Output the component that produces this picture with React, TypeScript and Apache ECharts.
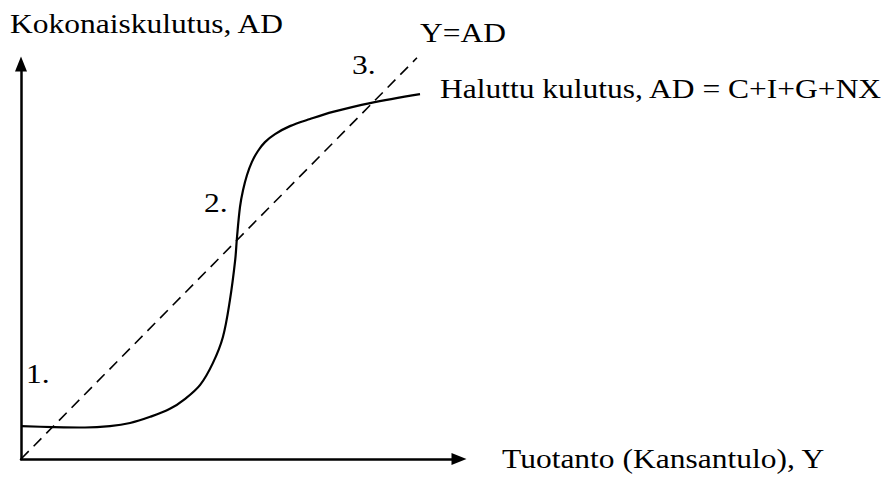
import React, { useEffect, useRef } from "react";
import * as echarts from "echarts";

// Desired aggregate demand curve (AD = C+I+G+NX)
const curveY_output = [0, 7.3, 14.6, 20.3, 24.9, 29.5, 34.0, 37.4, 40.9, 43.8, 46.1, 47.7, 48.9, 49.3, 50.0, 50.7, 51.6, 52.7, 54.1, 55.7, 58.0, 61.4, 66.0, 71.2, 79.7, 91.1];
const curveAD = [7.4, 7.2, 7.1, 7.4, 8.1, 9.5, 11.3, 13.5, 16.7, 21.6, 27.5, 35.8, 44.8, 49.8, 56.8, 60.6, 64.0, 66.9, 69.4, 71.4, 73.2, 75.0, 76.6, 78.2, 80.2, 82.2];

// 45-degree line Y = AD
const diagonalY = [0, 90.4];
const diagonalAD = [0, 90.4];

const axisMaxX = 100;
const axisMaxY = 89;

const FONT = '"Liberation Serif", "Times New Roman", serif';
const FS = 28;
const SX = 1.125;

export default function App() {
  const ref = useRef<HTMLDivElement>(null);

  useEffect(() => {
    if (!ref.current) return;
    const chart = echarts.init(ref.current, undefined, { renderer: "svg" });

    const curveData = curveY_output.map((x, i) => [x, curveAD[i]]);
    const diagData = diagonalY.map((x, i) => [x, diagonalAD[i]]);

    const mid = (baseline: number) => baseline - 0.3375 * FS;
    const label = (text: string, x: number, baseline: number) => ({
      type: "text",
      x,
      y: mid(baseline),
      scaleX: SX,
      silent: true,
      style: {
        text,
        x: 0,
        y: 0,
        font: `${FS}px ${FONT}`,
        fill: "#000",
        verticalAlign: "middle",
        align: "left",
      },
    });

    const axisCommon = {
      type: "value" as const,
      min: 0,
      axisLabel: { show: false },
      axisTick: { show: false },
      splitLine: { show: false },
      axisLine: {
        show: true,
        onZero: false,
        symbol: ["none", "triangle"],
        symbolSize: [12, 15],
        lineStyle: { color: "#000", width: 2.5 },
      },
    };

    chart.setOption({
      animation: false,
      backgroundColor: "#fff",
      grid: { left: 21, top: 64, width: 438, height: 395 },
      xAxis: { ...axisCommon, max: axisMaxX },
      yAxis: { ...axisCommon, max: axisMaxY },
      series: [
        {
          name: "Y=AD",
          type: "line",
          data: diagData,
          symbol: "none",
          silent: true,
          clip: false,
          lineStyle: { color: "#000", width: 1.6, type: [11, 7] },
        },
        {
          name: "Haluttu kulutus",
          type: "line",
          data: curveData,
          symbol: "none",
          silent: true,
          clip: false,
          smooth: 0.35,
          lineStyle: { color: "#000", width: 2.2 },
        },
      ],
      graphic: [
        label("Kokonaiskulutus, AD", 10, 33),
        label("Y=AD", 420, 42),
        label("3.", 352, 74),
        label("Haluttu kulutus, AD = C+I+G+NX", 440, 98),
        label("2.", 204, 212),
        label("1.", 26, 383),
        label("Tuotanto (Kansantulo), Y", 502, 468),
      ],
    });

    return () => chart.dispose();
  }, []);

  return (
    <div
      ref={ref}
      style={{ position: "absolute", left: 0, top: 0, width: 891, height: 477 }}
    />
  );
}
